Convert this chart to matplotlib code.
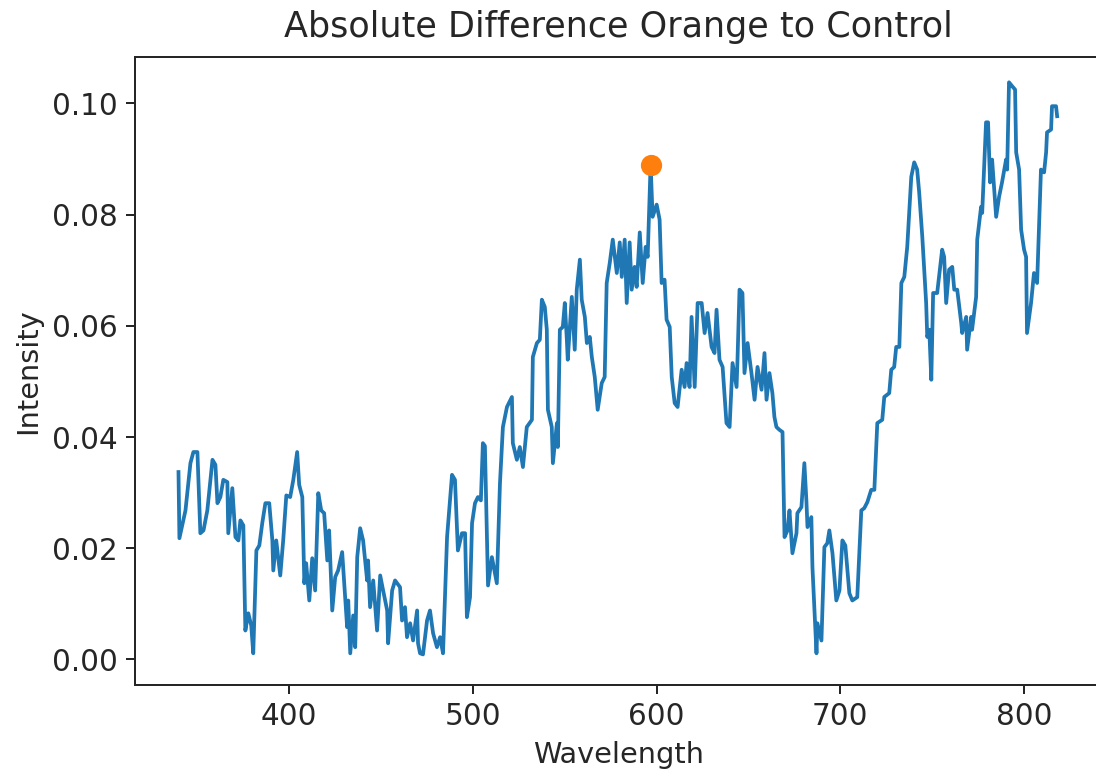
import matplotlib
matplotlib.use("Agg")
import matplotlib.pyplot as plt

# values
wavelength = [
    339.7, 340.2, 343.5, 346.2, 347.8, 350.0, 351.6, 353.3, 355.4, 358.2,
    359.8, 360.9, 362.5, 364.1, 366.3, 366.8, 369.0, 370.7, 372.3, 373.4,
    375.0, 376.1, 377.7, 379.3, 380.4, 382.1, 383.7, 385.3, 387.0, 389.1,
    390.8, 391.3, 392.9, 395.1, 396.7, 398.4, 400.5, 402.2, 404.3, 405.4,
    407.1, 408.2, 409.2, 410.9, 412.5, 414.1, 415.8, 417.4, 419.0, 420.7,
    421.7, 423.4, 425.0, 426.6, 428.8, 430.4, 431.5, 432.1, 433.2, 434.8,
    435.9, 437.0, 438.6, 440.2, 442.4, 442.9, 444.0, 445.7, 447.8, 449.5,
    451.1, 453.3, 453.8, 456.0, 457.6, 460.3, 461.4, 463.0, 464.1, 465.8,
    467.4, 469.6, 470.1, 471.2, 472.8, 475.0, 476.6, 478.3, 480.4, 482.1,
    483.7, 485.9, 488.6, 490.2, 491.8, 494.0, 495.7, 496.7, 498.4, 499.5,
    501.1, 502.7, 504.3, 505.4, 506.5, 508.2, 510.3, 513.0, 514.7, 516.3,
    518.5, 521.2, 521.7, 523.9, 525.5, 527.2, 529.3, 532.1, 532.6, 534.8,
    536.4, 537.5, 539.1, 540.2, 540.8, 542.9, 543.5, 545.7, 546.2, 547.3,
    548.9, 550.0, 551.1, 551.6, 553.8, 555.4, 556.5, 558.2, 559.2, 560.9,
    562.0, 563.6, 564.7, 566.3, 567.9, 570.1, 571.7, 572.8, 574.5, 576.1,
    578.3, 579.9, 581.0, 582.6, 583.7, 585.3, 586.4, 588.0, 589.1, 590.8,
    592.4, 594.0, 595.1, 596.7, 597.8, 600.0, 601.6, 602.7, 604.3, 605.4,
    607.1, 608.2, 609.8, 611.4, 613.6, 615.2, 616.3, 617.9, 619.0, 620.7,
    622.3, 624.5, 626.1, 627.7, 629.9, 631.5, 632.6, 634.2, 635.9, 638.0,
    639.7, 641.3, 643.5, 644.0, 645.1, 646.7, 647.8, 649.5, 651.6, 653.3,
    654.9, 657.1, 658.7, 659.8, 661.4, 663.0, 664.1, 665.2, 666.8, 668.5,
    669.6, 671.2, 672.3, 673.9, 676.1, 676.6, 678.8, 680.4, 681.5, 682.1,
    684.2, 684.8, 687.0, 687.5, 689.7, 691.3, 692.9, 694.0, 695.7, 697.8,
    699.5, 701.1, 702.7, 704.9, 706.5, 709.2, 711.4, 713.0, 714.7, 716.8,
    718.5, 720.1, 722.8, 723.9, 726.6, 727.7, 729.3, 730.4, 732.1, 733.2,
    734.8, 736.4, 738.6, 740.2, 741.8, 742.9, 744.6, 746.7, 747.3, 748.4,
    749.5, 750.5, 752.7, 755.4, 756.5, 757.6, 759.2, 760.9, 762.0, 763.6,
    765.8, 766.3, 768.5, 769.0, 771.2, 771.7, 773.9, 774.5, 776.6, 777.2,
    779.3, 780.4, 781.5, 782.6, 784.8, 786.4, 788.0, 790.2, 790.8, 791.8,
    793.5, 795.1, 795.7, 797.3, 798.4, 800.0, 801.1, 801.6, 803.8, 805.4,
    807.1, 809.2, 810.9, 812.0, 812.5, 814.7, 815.2, 817.4, 818.0,
]
intensity = [
    0.0337, 0.0218, 0.0268, 0.0353, 0.0373, 0.0373, 0.0227, 0.0232, 0.0268, 0.0359,
    0.0350, 0.0281, 0.0292, 0.0323, 0.0319, 0.0227, 0.0308, 0.0220, 0.0214, 0.0250,
    0.0241, 0.0052, 0.0083, 0.0061, 0.0011, 0.0196, 0.0205, 0.0245, 0.0281, 0.0281,
    0.0214, 0.0160, 0.0214, 0.0151, 0.0214, 0.0295, 0.0292, 0.0323, 0.0373, 0.0314,
    0.0292, 0.0137, 0.0173, 0.0106, 0.0182, 0.0124, 0.0299, 0.0268, 0.0263, 0.0178,
    0.0232, 0.0088, 0.0148, 0.0160, 0.0193, 0.0112, 0.0058, 0.0106, 0.0011, 0.0079,
    0.0022, 0.0184, 0.0236, 0.0214, 0.0142, 0.0178, 0.0094, 0.0142, 0.0052, 0.0151,
    0.0124, 0.0088, 0.0029, 0.0124, 0.0142, 0.0130, 0.0070, 0.0094, 0.0040, 0.0065,
    0.0034, 0.0088, 0.0029, 0.0011, 0.0009, 0.0070, 0.0088, 0.0047, 0.0022, 0.0040,
    0.0011, 0.0220, 0.0332, 0.0323, 0.0196, 0.0227, 0.0227, 0.0076, 0.0112, 0.0245,
    0.0281, 0.0292, 0.0286, 0.0389, 0.0384, 0.0133, 0.0184, 0.0137, 0.0317, 0.0418,
    0.0454, 0.0472, 0.0389, 0.0359, 0.0382, 0.0346, 0.0418, 0.0431, 0.0544, 0.0569,
    0.0575, 0.0647, 0.0634, 0.0593, 0.0449, 0.0418, 0.0353, 0.0425, 0.0382, 0.0593,
    0.0598, 0.0641, 0.0575, 0.0539, 0.0652, 0.0557, 0.0665, 0.0719, 0.0647, 0.0616,
    0.0569, 0.0580, 0.0544, 0.0508, 0.0449, 0.0497, 0.0508, 0.0677, 0.0714, 0.0755,
    0.0695, 0.0750, 0.0688, 0.0755, 0.0641, 0.0750, 0.0665, 0.0706, 0.0670, 0.0768,
    0.0677, 0.0742, 0.0724, 0.0890, 0.0796, 0.0818, 0.0791, 0.0677, 0.0683, 0.0611,
    0.0598, 0.0508, 0.0461, 0.0454, 0.0521, 0.0490, 0.0533, 0.0490, 0.0616, 0.0490,
    0.0641, 0.0641, 0.0587, 0.0623, 0.0562, 0.0551, 0.0629, 0.0539, 0.0526, 0.0425,
    0.0418, 0.0533, 0.0490, 0.0539, 0.0665, 0.0659, 0.0515, 0.0569, 0.0515, 0.0467,
    0.0526, 0.0485, 0.0551, 0.0467, 0.0515, 0.0479, 0.0436, 0.0418, 0.0413, 0.0409,
    0.0220, 0.0232, 0.0268, 0.0191, 0.0227, 0.0263, 0.0274, 0.0353, 0.0286, 0.0238,
    0.0256, 0.0166, 0.0011, 0.0065, 0.0034, 0.0202, 0.0209, 0.0232, 0.0191, 0.0106,
    0.0124, 0.0214, 0.0205, 0.0119, 0.0106, 0.0112, 0.0268, 0.0272, 0.0283, 0.0305,
    0.0305, 0.0425, 0.0431, 0.0472, 0.0479, 0.0521, 0.0526, 0.0562, 0.0562, 0.0677,
    0.0688, 0.0742, 0.0868, 0.0894, 0.0881, 0.0840, 0.0760, 0.0641, 0.0580, 0.0593,
    0.0503, 0.0659, 0.0659, 0.0737, 0.0724, 0.0641, 0.0701, 0.0706, 0.0665, 0.0665,
    0.0605, 0.0587, 0.0616, 0.0557, 0.0616, 0.0593, 0.0652, 0.0755, 0.0814, 0.0803,
    0.0966, 0.0966, 0.0858, 0.0899, 0.0796, 0.0832, 0.0858, 0.0899, 0.0881, 0.1038,
    0.1031, 0.1025, 0.0912, 0.0881, 0.0773, 0.0737, 0.0724, 0.0587, 0.0641, 0.0695,
    0.0677, 0.0881, 0.0876, 0.0912, 0.0948, 0.0953, 0.0995, 0.0995, 0.0977,
]

peak_wl = [596.7]
peak_val = [0.0890]

fig = plt.figure(figsize=(1096 / 180, 774 / 180), dpi=180)
ax = fig.add_axes([0.1233, 0.1150, 0.8813, 0.8110])

ax.plot(wavelength, intensity, color="#1f77b4", linewidth=1.5)
ax.plot(peak_wl, peak_val, "o", color="#ff7f0e", markersize=7.5)

ax.set_xlim(316.1, 841.9)
ax.set_ylim(-0.0046, 0.1083)
ax.set_xticks([400, 500, 600, 700, 800])
ax.set_yticks([0.00, 0.02, 0.04, 0.06, 0.08, 0.10])
ax.set_yticklabels(["0.00", "0.02", "0.04", "0.06", "0.08", "0.10"])
ax.tick_params(labelsize=11.8, colors="#262626")
ax.spines["right"].set_visible(False)
for s in ["left", "top", "bottom"]:
    ax.spines[s].set_color("#262626")

ax.set_title("Absolute Difference Orange to Control", fontsize=14, color="#262626", pad=8)
ax.set_xlabel("Wavelength", fontsize=11.5, color="#262626")
ax.set_ylabel("Intensity", fontsize=11.5, color="#262626")

fig.savefig("out.png", dpi=180)
